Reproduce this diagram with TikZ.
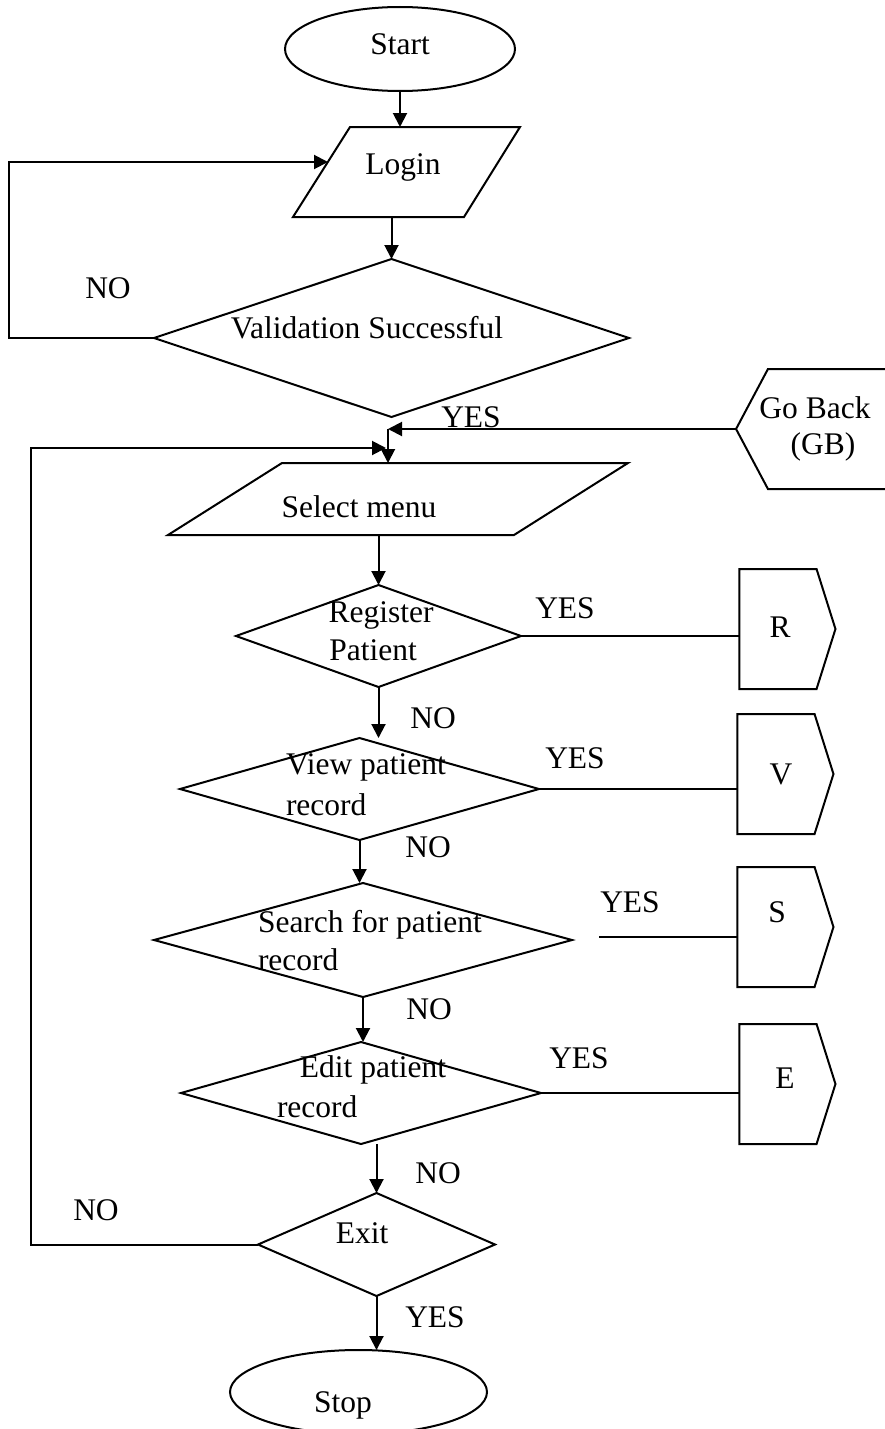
\documentclass[tikz,border=0pt]{standalone}
\usepackage{fontspec}
\setmainfont{Liberation Serif}
\usetikzlibrary{shapes.geometric,shapes.symbols,arrows.meta}
\begin{document}
\begin{tikzpicture}[x=1pt,y=-1pt,
  every node/.style={font=\fontsize{31.5}{36}\selectfont},
  line width=2pt,
  shp/.style={draw, inner sep=0pt, outer sep=0pt},
  terminal/.style={shp, ellipse},
  decision/.style={shp, diamond},
  offpage/.style={shp, signal, signal to=east, signal pointer angle=145,
                  minimum width=96, minimum height=120},
  txt/.style={inner sep=0pt},
  flow/.style={-{Triangle[length=14pt,width=14pt]}}
]
\useasboundingbox (0,0) rectangle (885,1429);
\clip (0,0) rectangle (885,1429);

% ---- shapes ----
\node[terminal, minimum width=230, minimum height=84] (start) at (400,49) {};
% input/output parallelograms
\draw (293,217) -- (350,127) -- (520,127) -- (464,217) -- cycle;
\coordinate (loginN) at (399,127);
\coordinate (loginS) at (392,217);
\coordinate (loginW) at (328,162);
\draw (168,535) -- (282,463) -- (628,463) -- (514,535) -- cycle;
\coordinate (selS) at (380,535);

\node[decision, minimum width=475, minimum height=158] (val) at (391.5,338) {};
\node[shp, signal, signal to=west, signal from=nowhere, signal pointer angle=124,
      minimum width=300, minimum height=120] (gb) at (902,429) {};
\node[decision, minimum width=285, minimum height=102] (reg) at (378.5,636) {};
\node[decision, minimum width=359, minimum height=102] (view) at (359.5,789) {};
\node[decision, minimum width=418, minimum height=114] (search) at (363,940) {};
\node[decision, minimum width=360, minimum height=102] (edit) at (361,1093) {};
\node[decision, minimum width=237, minimum height=103] (exit) at (376.5,1244.5) {};
\node[terminal, minimum width=257, minimum height=84] (stop) at (358.5,1392) {};

\node[offpage] (R) at (778,629) {};
\node[offpage] (V) at (776,774) {};
\node[offpage] (S) at (776,927) {};
\node[offpage] (E) at (778,1084) {};

% ---- texts ----
\node[txt] (startT) at (400,44) {Start};
\node[txt] (loginT) at (403,167) {Login};
\node[txt] (valT) at (367,328) {Validation Successful};
\node[txt] (gbT1) at (815,408) {Go Back};
\node[txt] (gbT2) at (823,447) {(GB)};
\node[txt] (selT) at (359,507) {Select menu};
\node[txt] (regT1) at (381,615) {Register};
\node[txt] (regT2) at (373,650) {Patient};
\node[txt, anchor=west] (viewT1) at (285,767) {View patient};
\node[txt, anchor=west] (viewT2) at (285,805) {record};
\node[txt, anchor=west] (searchT1) at (257,925) {Search for patient};
\node[txt, anchor=west] (searchT2) at (257,960) {record};
\node[txt] (editT1) at (373,1070) {Edit patient};
\node[txt, anchor=west] (editT2) at (276,1107) {record};
\node[txt] (exitT) at (362,1233) {Exit};
\node[txt] (stopT) at (343,1405) {Stop};
\node[txt] (RT) at (780,627) {R};
\node[txt] (VT) at (781,774) {V};
\node[txt] (ST) at (777,912) {S};
\node[txt] (ET) at (785,1078) {E};

% ---- branch labels ----
\node[txt] (no1) at (108,288) {NO};
\node[txt] (yes1) at (471,417) {YES};
\node[txt] (yes2) at (565,608) {YES};
\node[txt] (no2) at (433,718) {NO};
\node[txt] (yes3) at (575,758) {YES};
\node[txt] (no3) at (428,847) {NO};
\node[txt] (yes4) at (630,902) {YES};
\node[txt] (no4) at (429,1009) {NO};
\node[txt] (yes5) at (579,1058) {YES};
\node[txt] (no5) at (438,1173) {NO};
\node[txt] (no6) at (96,1210) {NO};
\node[txt] (yes6) at (435,1317) {YES};

% ---- junctions ----
\coordinate (j1) at (388,429);
\coordinate (j2) at (386,448);
\coordinate (loopc) at (31,448);
\coordinate (sfree) at (599,937);

% ---- connectors ----
\draw[flow] (start.south) -- (start.south |- loginN);
\draw[flow] (val.north |- loginS) -- (val.north);
\draw[flow] (val.west) -- ++(-145,0) |- (loginW);
\draw[flow] (gb.west) -- (j1);
\draw[flow] (j1) -- ++(0,34);
\draw[flow] (exit.west) -| (loopc) -- (j2);
\draw[flow] (reg.north |- selS) -- (reg.north);
\draw (reg.east) -- (reg.east -| R.west);
\draw[flow] (reg.south) -- (reg.south |- view.north);
\draw (view.east) -- (view.east -| V.west);
\draw[flow] (view.south) -- (view.south |- search.north);
\draw (sfree) -- (sfree -| S.west);
\draw[flow] (search.south) -- (search.south |- edit.north);
\draw (edit.east) -- (edit.east -| E.west);
\draw[flow] (exit.north |- edit.south) -- (exit.north);
\draw[flow] (exit.south) -- (exit.south |- stop.north);
\end{tikzpicture}
\end{document}
